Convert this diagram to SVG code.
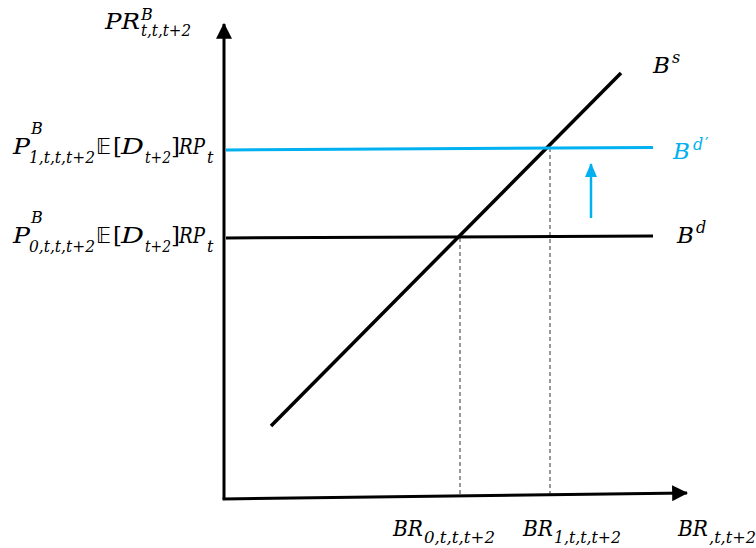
<svg xmlns="http://www.w3.org/2000/svg" width="756" height="548" viewBox="0 0 756 548">
<style>
.m{font-family:"DejaVu Serif","Liberation Serif",serif;font-style:italic;fill:#000}
.u{font-family:"DejaVu Serif","Liberation Serif",serif;font-style:normal;fill:#000}
.bb{font-family:"DejaVu Sans","DejaVu Serif",sans-serif;font-style:normal;fill:#000}
.big{font-size:23px}
.sm{font-size:16px}
.blue{fill:#00B0F0}
.ax{stroke:#000;stroke-width:3;fill:none}
.dash{stroke:#333;stroke-width:1;stroke-dasharray:4 3;fill:none}
</style>
<defs>
<marker id="ah" markerUnits="userSpaceOnUse" markerWidth="16" markerHeight="16" viewBox="0 0 14 14" refX="13" refY="7" orient="auto">
<path d="M0,0 L14,7 L0,14 Z" fill="#000"/>
</marker>
<marker id="ahb" markerUnits="userSpaceOnUse" markerWidth="14" markerHeight="14" viewBox="0 0 14 12" refX="13" refY="6" orient="auto">
<path d="M0,0 L14,6 L0,12 Z" fill="#00B0F0"/>
</marker>
</defs>
<g id="connectors">
<line class="dash" x1="460" y1="238" x2="460" y2="494"/>
<line class="dash" x1="550" y1="148" x2="550" y2="494"/>
<line x1="224" y1="499" x2="224" y2="24" class="ax" marker-end="url(#ah)"/>
<line x1="222.5" y1="499" x2="687" y2="493" class="ax" marker-end="url(#ah)"/>
<line id="supply" x1="271" y1="426" x2="621" y2="73" stroke="#000" stroke-width="3.5"/>
<line id="demand" x1="226" y1="238" x2="653" y2="236" stroke="#000" stroke-width="3"/>
<line id="demand2" x1="226" y1="150" x2="653" y2="147.5" stroke="#00B0F0" stroke-width="3"/>
<line x1="591" y1="218" x2="591" y2="164" stroke="#00B0F0" stroke-width="2.5" marker-end="url(#ahb)"/>
</g>
<g id="ylabel">
<text class="m big" x="105" y="29" textLength="35" lengthAdjust="spacingAndGlyphs">PR</text>
<text class="m sm" x="141" y="20">B</text>
<text class="m sm" x="141" y="36" textLength="50" lengthAdjust="spacingAndGlyphs">t,t,t+2</text>
</g>
<g id="p1">
<text class="m big" x="13" y="154" textLength="17" lengthAdjust="spacingAndGlyphs">P</text>
<text class="m sm" x="31" y="134">B</text>
<text class="m sm" x="29" y="163" textLength="66" lengthAdjust="spacingAndGlyphs">1,t,t,t+2</text>
<text class="bb" x="96" y="154" font-size="21" textLength="15" lengthAdjust="spacingAndGlyphs">𝔼</text>
<text class="u big" x="113" y="154">[</text>
<text class="m big" x="121" y="154" textLength="23" lengthAdjust="spacingAndGlyphs">D</text>
<text class="m sm" x="145" y="163" textLength="26" lengthAdjust="spacingAndGlyphs">t+2</text>
<text class="u big" x="171" y="154">]</text>
<text class="m big" x="179" y="154" textLength="26" lengthAdjust="spacingAndGlyphs">RP</text>
<text class="m sm" x="207" y="163">t</text>
</g>
<g id="p0" transform="translate(0,89)">
<text class="m big" x="13" y="154" textLength="17" lengthAdjust="spacingAndGlyphs">P</text>
<text class="m sm" x="31" y="134">B</text>
<text class="m sm" x="29" y="163" textLength="66" lengthAdjust="spacingAndGlyphs">0,t,t,t+2</text>
<text class="bb" x="96" y="154" font-size="21" textLength="15" lengthAdjust="spacingAndGlyphs">𝔼</text>
<text class="u big" x="113" y="154">[</text>
<text class="m big" x="121" y="154" textLength="23" lengthAdjust="spacingAndGlyphs">D</text>
<text class="m sm" x="145" y="163" textLength="26" lengthAdjust="spacingAndGlyphs">t+2</text>
<text class="u big" x="171" y="154">]</text>
<text class="m big" x="179" y="154" textLength="26" lengthAdjust="spacingAndGlyphs">RP</text>
<text class="m sm" x="207" y="163">t</text>
</g>
<g id="bs">
<text class="m big" x="653" y="73">B</text>
<text class="m sm" x="672" y="63">s</text>
</g>
<g id="bdprime">
<text class="m big blue" x="673" y="159">B</text>
<text class="m sm blue" x="693" y="150">d</text>
<text class="u sm blue" x="705" y="149">′</text>
</g>
<g id="bd">
<text class="m big" x="677" y="243">B</text>
<text class="m sm" x="696" y="233">d</text>
</g>
<g id="br0">
<text class="m big" x="393" y="536" textLength="30" lengthAdjust="spacingAndGlyphs">BR</text>
<text class="m sm" x="424" y="543" textLength="71" lengthAdjust="spacingAndGlyphs">0,t,t,t+2</text>
</g>
<g id="br1">
<text class="m big" x="523" y="536" textLength="30" lengthAdjust="spacingAndGlyphs">BR</text>
<text class="m sm" x="554" y="543" textLength="67" lengthAdjust="spacingAndGlyphs">1,t,t,t+2</text>
</g>
<g id="brx">
<text class="m big" x="678" y="536" textLength="30" lengthAdjust="spacingAndGlyphs">BR</text>
<text class="m sm" x="709" y="543" textLength="47" lengthAdjust="spacingAndGlyphs">,t,t+2</text>
</g>
</svg>
